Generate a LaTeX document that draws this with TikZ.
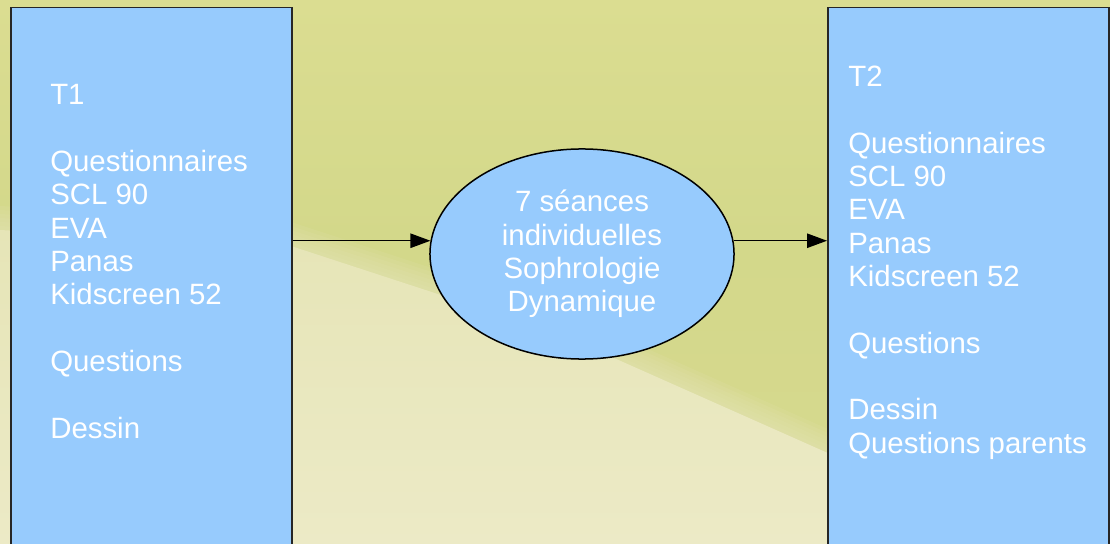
\documentclass[tikz,border=0pt]{standalone}
\usepackage{fontspec}
\setmainfont{Liberation Sans}
\usetikzlibrary{arrows.meta,shapes.geometric}
\definecolor{boxblue}{RGB}{151,203,253}
\definecolor{meadow}{RGB}{215,217,143}
\definecolor{meadowtop}{RGB}{219,221,145}
\definecolor{meadowgreen}{RGB}{211,216,138}
\definecolor{pale}{RGB}{236,234,198}
\definecolor{palemid}{RGB}{230,229,183}
\begin{document}
\begin{tikzpicture}[x=0.025cm,y=-0.025cm,
  panel/.style={draw=black!85, line width=0.0375cm, fill=boxblue, inner sep=0pt,
    minimum width=7.025cm, minimum height=14cm, anchor=north west},
  txt/.style={text=white, font=\fontsize{20.9}{23.7}\selectfont, inner sep=0pt},
  link/.style={draw=black, line width=0.033cm, -{Triangle[length=0.5cm,width=0.36cm]}},
]
\useasboundingbox (0,0) rectangle (1110,544);
\clip (0,0) rectangle (1110,544);

% grassy backdrop
\fill[meadow] (0,0) rectangle (1110,544);
\shade[top color=meadowtop, bottom color=meadowgreen] (0,0) rectangle (1110,240);
\shade[top color=meadowgreen, bottom color=meadow] (0,239) rectangle (1110,544);
% pale worn patch with a soft edge
\foreach \d in {-24,-20,-16,-12,-8,-4}{
  \fill[palemid, opacity=0.14] (0,230+\d) -- (291,246+\d) -- (560,334+\d) -- (830,454+\d) -- (830,544) -- (0,544) -- cycle;
}
\shade[top color=palemid, bottom color=pale]
  (0,230) -- (291,246) -- (560,334) -- (830,454) -- (830,544) -- (0,544) -- cycle;

% stage boxes
\node[panel] (t1box) at (10,7) {};
\node[panel] (t2box) at (827,7) {};

% session ellipse
\node[ellipse, draw=black, line width=0.0375cm, fill=boxblue, inner sep=0pt,
  minimum width=7.6cm, minimum height=5.25cm, txt, align=center] (sess) at (582,254)
  {7 séances\\individuelles\\Sophrologie\\Dynamique};

% box contents (anchored at the baseline of the last line)
\node[txt, align=left, anchor=base west] (t1text) at (50,438)
  {T1\\\mbox{}\\Questionnaires\\SCL 90\\EVA\\Panas\\Kidscreen 52\\\mbox{}\\Questions\\\mbox{}\\Dessin};
\node[txt, align=left, anchor=base west] (t2text) at (848,453)
  {T2\\\mbox{}\\Questionnaires\\SCL 90\\EVA\\Panas\\Kidscreen 52\\\mbox{}\\Questions\\\mbox{}\\Dessin\\Questions parents};

% flow
\draw[link] (sess.175 -| t1box.east) -- (sess.175);
\draw[link] (sess.5) -- (sess.5 -| t2box.west);
\end{tikzpicture}
\end{document}
